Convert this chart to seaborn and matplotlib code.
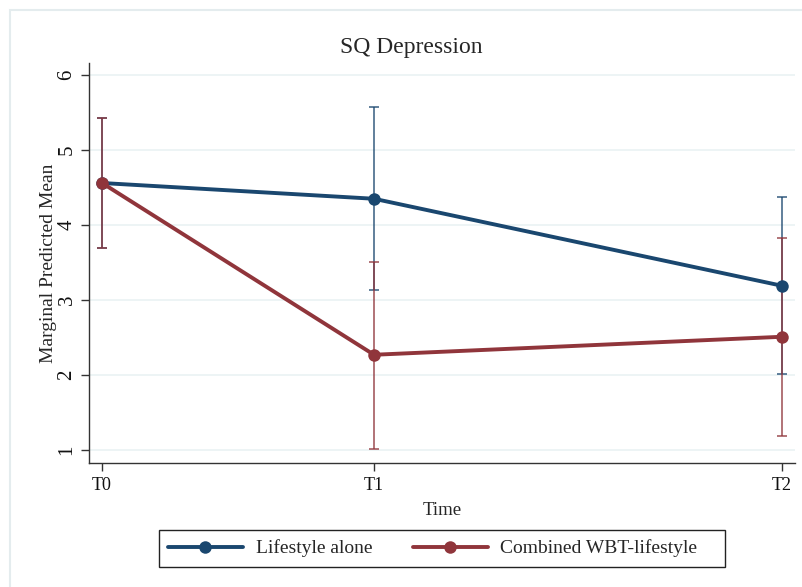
import matplotlib
matplotlib.use("Agg")
import matplotlib.pyplot as plt
import seaborn as sns
import pandas as pd
import numpy as np
from matplotlib.patches import Rectangle
from matplotlib.lines import Line2D

# ---- data ----
time_labels = ["T0", "T1", "T2"]
time_pos = [0, 2, 5]
groups = ["Lifestyle alone", "Combined WBT-lifestyle"]
lifestyle_mean = [4.56, 4.35, 3.19]
lifestyle_lo = [3.70, 3.13, 2.01]
lifestyle_hi = [5.43, 5.57, 4.37]
combined_mean = [4.56, 2.27, 2.51]
combined_lo = [3.70, 1.01, 1.19]
combined_hi = [5.43, 3.51, 3.83]

colors = {"Lifestyle alone": "#1a476f", "Combined WBT-lifestyle": "#90353b"}

df = pd.DataFrame({
    "time": time_pos * 2,
    "group": [groups[0]] * 3 + [groups[1]] * 3,
    "mean": lifestyle_mean + combined_mean,
    "lo": lifestyle_lo + combined_lo,
    "hi": lifestyle_hi + combined_hi,
})

sns.set_style("white")
plt.rcParams["font.family"] = ["Liberation Serif", "DejaVu Serif"]

W, H = 802, 587
fig = plt.figure(figsize=(W / 100, H / 100), dpi=100)
fig.patches.append(Rectangle((10 / W, -0.1), 1.2, 1 - 10 / H + 0.1,
                             transform=fig.transFigure, fill=False,
                             edgecolor="#e4ecee", linewidth=1.5, zorder=0))
ax = fig.add_axes([89 / W, 1 - 463 / H, (795 - 89) / W, (463 - 63) / H])

# confidence intervals
for g in groups:
    sub = df[df.group == g]
    ax.errorbar(sub["time"], sub["mean"],
                yerr=[sub["mean"] - sub["lo"], sub["hi"] - sub["mean"]],
                fmt="none", ecolor=colors[g], elinewidth=1.3, capsize=3.8,
                capthick=1.3, alpha=0.75, zorder=2)

sns.lineplot(data=df, x="time", y="mean", hue="group", hue_order=groups,
             palette=colors, marker="o", markersize=9, markeredgewidth=0,
             linewidth=2.8, legend=False, ax=ax, zorder=3)

ax.set_xlim(-0.096, 5.096)
ax.set_ylim(0.827, 6.16)
ax.set_xticks(time_pos)
ax.set_xticklabels(time_labels, fontsize=13)
ax.set_yticks([1, 2, 3, 4, 5, 6])
ax.set_yticklabels(["1", "2", "3", "4", "5", "6"], rotation=90, va="center",
                   fontsize=15)
ax.yaxis.grid(True, color="#eaf2f3", linewidth=1.2)
ax.xaxis.grid(False)
ax.set_axisbelow(True)
for s in ["top", "right"]:
    ax.spines[s].set_visible(False)
for s in ["left", "bottom"]:
    ax.spines[s].set_color("#333333")
    ax.spines[s].set_linewidth(1.0)
ax.tick_params(axis="both", which="major", direction="out", length=6,
               width=1, color="#333333", labelcolor="#111111",
               left=True, bottom=True)
ax.tick_params(axis="y", pad=3)
ax.tick_params(axis="x", pad=4)
ax.set_xlabel("Time", fontsize=13.5, labelpad=6)
ax.set_ylabel("Marginal Predicted Mean", fontsize=14, labelpad=0)
fig.text(411 / W, 1 - 48 / H, "SQ Depression", ha="center", va="center",
         fontsize=17)

# legend box
fig.patches.append(Rectangle((159 / W, 1 - 567 / H), (725 - 159) / W,
                             (567 - 530) / H, transform=fig.transFigure,
                             fill=False, edgecolor="#222222", linewidth=1.0))
handles = [Line2D([], [], color=colors[g], linewidth=2.8, marker="o",
                  markersize=9, markeredgewidth=0) for g in groups]
leg = fig.legend(handles, groups, loc="center left", ncol=2,
                 bbox_to_anchor=(168 / W, 1 - 548.5 / H), frameon=False,
                 fontsize=14, handlelength=3.85, columnspacing=2.1,
                 borderpad=0, borderaxespad=0, handletextpad=0.65)

fig.savefig("out.png", dpi=100, facecolor="white")
